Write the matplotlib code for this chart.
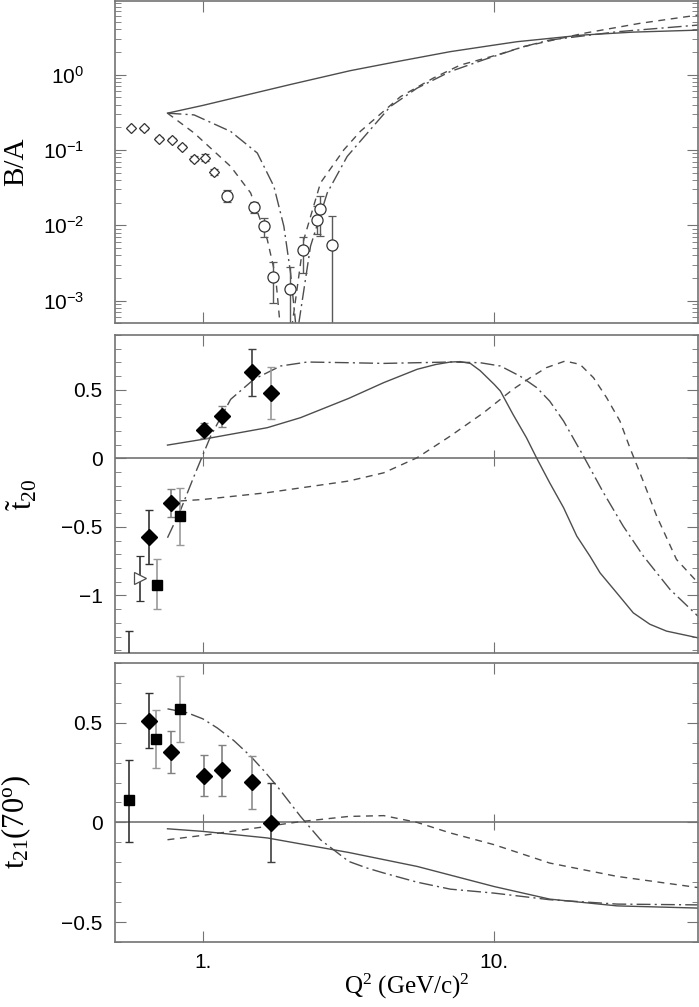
import numpy as np
import matplotlib
matplotlib.use('Agg')
import matplotlib.pyplot as plt
from matplotlib.ticker import FixedLocator, FuncFormatter, LogLocator, MultipleLocator, NullFormatter, NullLocator

plt.rcParams['font.family'] = ['Liberation Sans', 'DejaVu Sans']
plt.rcParams['mathtext.fontset'] = 'custom'
plt.rcParams['mathtext.rm'] = 'Liberation Serif'
plt.rcParams['mathtext.it'] = 'Liberation Serif:italic'
plt.rcParams['mathtext.sf'] = 'Liberation Sans'

# ---- B/A panel ----
ba_diam_x = [0.568, 0.631, 0.708, 0.783, 0.852, 0.934, 1.018, 1.093]
ba_diam_y = [0.197, 0.193, 0.141, 0.136, 0.111, 0.077, 0.079, 0.051]
ba_diam_lo = [0.190, 0.186, 0.135, 0.130, 0.105, 0.071, 0.071, 0.046]
ba_diam_hi = [0.204, 0.200, 0.147, 0.142, 0.117, 0.084, 0.088, 0.056]

ba_circ_x = [1.211, 1.495, 1.618, 1.746, 1.99, 2.216, 2.471, 2.53, 2.78]
ba_circ_y = [0.0247, 0.0173, 0.0097, 0.00207, 0.00144, 0.00467, 0.0116, 0.0165, 0.0054]
ba_circ_lo = [0.0202, 0.0146, 0.0070, 0.00092, 1e-5, 0.0023, 0.0076, 0.0073, 1e-5]
ba_circ_hi = [0.0294, 0.0202, 0.0126, 0.00324, 0.0028, 0.0070, 0.018, 0.0247, 0.0134]

ba_solid_x = [0.757, 1.0, 2.0, 3.21, 4.77, 7.07, 10.0, 12.0, 20.2, 30.0, 50.0]
ba_solid_y = [0.308, 0.39, 0.74, 1.13, 1.52, 2.02, 2.47, 2.74, 3.36, 3.67, 3.9]

ba_dash_x = [0.757, 0.934, 1.247, 1.46, 1.665, 1.778, 1.84, 1.85, 2.02, 2.03, 2.222,
             2.535, 3.05, 3.47, 4.77, 6.18, 7.65, 10.2, 12.6, 20.2, 31.6, 50.0]
ba_dash_y = [0.308, 0.168, 0.0604, 0.0269, 0.00647, 0.00211, 5e-4, 1e-5, 1e-5, 5e-4, 0.00647,
             0.0365, 0.1006, 0.176, 0.51, 0.90, 1.34, 1.82, 2.35, 3.53, 4.8, 6.18]

ba_ddot_x = [0.757, 0.934, 1.247, 1.539, 1.754, 1.898, 2.001, 2.083, 2.09, 2.13, 2.136,
             2.343, 2.674, 3.13, 4.40, 5.43, 7.07, 9.18, 12.6, 15.5, 26.4, 50.0]
ba_ddot_y = [0.308, 0.292, 0.176, 0.091, 0.0329, 0.0097, 0.00234, 5e-4, 1e-5, 1e-5, 5e-4,
             0.00527, 0.0269, 0.082, 0.377, 0.66, 1.10, 1.57, 2.35, 2.88, 3.71, 4.55]

# ---- t20 panel ----
t20_diam_x = [0.653, 0.777, 1.01, 1.164, 1.48, 1.72]
t20_diam_y = [-0.574, -0.326, 0.209, 0.312, 0.633, 0.477]
t20_diam_lo = [-0.769, -0.426, 0.151, 0.231, 0.458, 0.287]
t20_diam_hi = [-0.38, -0.226, 0.26, 0.382, 0.80, 0.667]
t20_diam_ec = ['0.2', '0.5', '0.5', '0.5', '0.25', '0.6']

t20_sq_x = [0.557, 0.696, 0.834]
t20_sq_y = [-1.6, -0.922, -0.421]
t20_sq_lo = [-1.94, -1.102, -0.633]
t20_sq_hi = [-1.26, -0.737, -0.217]
t20_sq_ec = ['0.2', '0.6', '0.6']

t20_tri_x = [0.610]
t20_tri_y = [-0.873]
t20_tri_lo = [-1.04]
t20_tri_hi = [-0.713]

t20_solid_x = [0.757, 1.0, 1.665, 2.165, 3.17, 4.18, 5.44, 6.3, 7.07, 7.65, 8.28, 8.95, 10.0,
               10.5, 11.6, 12.9, 14.0, 15.5, 17.3, 19.2, 21.3, 23.07, 26.3, 30.0, 34.2, 39.0, 50.0]
t20_solid_y = [0.097, 0.139, 0.224, 0.297, 0.438, 0.553, 0.65, 0.685, 0.703, 0.706, 0.693, 0.64, 0.54,
               0.491, 0.321, 0.151, 0.0, -0.178, -0.36, -0.567, -0.713, -0.835, -0.98, -1.127, -1.21,
               -1.26, -1.309]

t20_dash_x = [0.757, 1.0, 1.665, 3.17, 4.18, 5.44, 7.07, 9.19, 11.6, 13.3, 15.1, 17.5,
              19.7, 21.9, 24.3, 27.0, 29.2, 32.5, 36.1, 42.2, 50.0]
t20_dash_y = [-0.316, -0.30, -0.25, -0.165, -0.105, 0.005, 0.163, 0.333, 0.504, 0.589, 0.662, 0.71,
              0.686, 0.589, 0.443, 0.272, 0.078, -0.17, -0.421, -0.737, -0.907]

t20_ddot_x = [0.757, 0.841, 0.934, 1.065, 1.247, 1.498, 1.85, 2.284, 3.17, 4.18, 7.07,
              8.95, 10.5, 12.27, 14.0, 15.5, 17.3, 19.2, 20.2, 23.7, 27.7, 32.5, 40.1, 50.0]
t20_ddot_y = [-0.579, -0.372, -0.129, 0.163, 0.431, 0.577, 0.674, 0.703, 0.698, 0.693, 0.703,
              0.698, 0.674, 0.60, 0.516, 0.418, 0.272, 0.102, 0.02, -0.25, -0.494, -0.713, -0.956,
              -1.151]

# ---- t21 panel ----
t21_diam_x = [0.652, 0.777, 1.01, 1.164, 1.475, 1.719]
t21_diam_y = [0.508, 0.352, 0.233, 0.261, 0.201, -0.003]
t21_diam_lo = [0.374, 0.248, 0.134, 0.134, 0.067, -0.197]
t21_diam_hi = [0.65, 0.461, 0.337, 0.389, 0.332, 0.198]
t21_diam_ec = ['0.2', '0.5', '0.5', '0.5', '0.55', '0.25']

t21_sq_x = [0.557, 0.694, 0.834]
t21_sq_y = [0.11, 0.421, 0.571]
t21_sq_lo = [-0.097, 0.273, 0.404]
t21_sq_hi = [0.315, 0.563, 0.737]
t21_sq_ec = ['0.2', '0.6', '0.6']

t21_solid_x = [0.757, 1.0, 1.665, 3.17, 5.44, 10.0, 15.5, 26.4, 50.0]
t21_solid_y = [-0.032, -0.045, -0.078, -0.151, -0.221, -0.322, -0.385, -0.419, -0.43]

t21_dash_x = [0.757, 1.0, 1.665, 2.165, 3.17, 4.18, 5.44, 7.07, 10.0, 15.5, 26.4, 50.0]
t21_dash_y = [-0.087, -0.065, -0.02, 0.004, 0.03, 0.034, 0.0, -0.053, -0.112, -0.204, -0.271, -0.327]

t21_ddot_x = [0.757, 0.886, 1.0, 1.122, 1.28, 1.46, 1.62, 1.801, 2.165, 2.535, 3.17, 3.66, 4.18,
              5.44, 7.07, 10.0, 15.5, 26.4, 50.0]
t21_ddot_y = [0.57, 0.55, 0.52, 0.474, 0.41, 0.332, 0.26, 0.181, 0.03, -0.087, -0.196, -0.229,
              -0.254, -0.30, -0.335, -0.355, -0.388, -0.41, -0.414]

line_c = '0.3'
spine_c = '0.45'
dash_ls = (0, (5, 4))
ddot_ls = (0, (10, 3, 1.5, 3))


def errs(y, lo, hi):
    y = np.array(y)
    return [y - np.array(lo), np.array(hi) - y]


def draw_points(ax, x, y, lo, hi, ecs, **kw):
    for i in range(len(x)):
        ax.errorbar([x[i]], [y[i]], yerr=[[y[i] - lo[i]], [hi[i] - y[i]]],
                    ecolor=ecs[i], elinewidth=1.2, capsize=3, capthick=1,
                    linestyle='none', zorder=3, **kw)


def style(ax, zero=False):
    ax.set_xscale('log')
    ax.set_xlim(0.5, 50)
    for s in ax.spines.values():
        s.set_color(spine_c)
        s.set_linewidth(1.2)
    ax.xaxis.set_major_locator(FixedLocator([1, 10]))
    ax.xaxis.set_minor_locator(NullLocator())
    ax.tick_params(which='both', direction='in', top=True, right=True, color=spine_c,
                   labelsize=15)
    ax.tick_params(which='major', length=8)
    ax.tick_params(which='minor', length=4)
    ax.xaxis.set_major_formatter(NullFormatter())
    if zero:
        ax.axhline(0, color='0.45', lw=1.2, zorder=1)
        lo, hi = ax.get_ylim()
        sec = ax.secondary_xaxis((0 - lo) / (hi - lo))
        sec.set_xticks([1, 10])
        sec.xaxis.set_minor_locator(NullLocator())
        sec.tick_params(direction='inout', length=12, color=spine_c,
                        labelbottom=False, labeltop=False)
        for s in sec.spines.values():
            s.set_visible(False)


fig = plt.figure(figsize=(6.99, 10.07), dpi=100)
L, W = 0.1645, 0.834
ax1 = fig.add_axes([L, 0.679, W, 0.320])
ax2 = fig.add_axes([L, 0.3515, W, 0.3158])
ax3 = fig.add_axes([L, 0.0646, W, 0.277])

# top
ax1.set_yscale('log')
ax1.set_ylim(5e-4, 9.5)
ax1.plot(ba_solid_x, ba_solid_y, color=line_c, lw=1)
ax1.plot(ba_dash_x, ba_dash_y, color=line_c, lw=1, ls=dash_ls)
ax1.plot(ba_ddot_x, ba_ddot_y, color=line_c, lw=1, ls=ddot_ls)
ax1.errorbar(ba_diam_x, ba_diam_y, yerr=errs(ba_diam_y, ba_diam_lo, ba_diam_hi),
             fmt='D', ms=5.5, mfc='white', mec='0.2', mew=0.9, ecolor='0.3',
             elinewidth=1, capsize=3)
ax1.errorbar(ba_circ_x, ba_circ_y, yerr=errs(ba_circ_y, ba_circ_lo, ba_circ_hi),
             fmt='o', ms=8, mfc='white', mec='0.2', mew=0.9, ecolor='0.35',
             elinewidth=1, capsize=3)
style(ax1)
ax1.yaxis.set_major_locator(LogLocator(base=10, numticks=10))
ax1.yaxis.set_minor_locator(LogLocator(base=10, subs=np.arange(2, 10), numticks=10))
ax1.yaxis.set_minor_formatter(NullFormatter())
ax1.yaxis.set_major_formatter(FuncFormatter(lambda v, p: r'$\mathsf{10^{%d}}$' % round(np.log10(v))))
ax1.tick_params(axis='y', which='major', labelsize=15, pad=22)
ax1.set_ylabel('B/A', family='Liberation Serif', fontsize=21)
ax1.yaxis.set_label_coords(-0.148, 0.5)

# middle
ax2.set_ylim(-1.42, 0.9)
ax2.plot(t20_solid_x, t20_solid_y, color=line_c, lw=1)
ax2.plot(t20_dash_x, t20_dash_y, color=line_c, lw=1, ls=dash_ls)
ax2.plot(t20_ddot_x, t20_ddot_y, color=line_c, lw=1, ls=ddot_ls)
draw_points(ax2, t20_diam_x, t20_diam_y, t20_diam_lo, t20_diam_hi, t20_diam_ec,
            marker='D', ms=8, color='black')
draw_points(ax2, t20_sq_x, t20_sq_y, t20_sq_lo, t20_sq_hi, t20_sq_ec,
            marker='s', ms=7, color='black')
draw_points(ax2, t20_tri_x, t20_tri_y, t20_tri_lo, t20_tri_hi, ['0.2'],
            marker='>', ms=9, mfc='white', mec='0.3', mew=0.9)
style(ax2, zero=True)
ax2.yaxis.set_major_locator(FixedLocator([-1, -0.5, 0, 0.5]))
ax2.yaxis.set_minor_locator(MultipleLocator(0.1))
ax2.yaxis.set_major_formatter(FuncFormatter(lambda v, p: ('%g' % v).replace('-', '\u2212')))
ax2.tick_params(axis='y', which='major', pad=9)
ax2.set_ylabel(r'$\tilde{\mathrm{t}}_{20}$', fontsize=22)
ax2.yaxis.set_label_coords(-0.13, 0.5)

# bottom
ax3.set_ylim(-0.6, 0.8)
ax3.plot(t21_solid_x, t21_solid_y, color=line_c, lw=1)
ax3.plot(t21_dash_x, t21_dash_y, color=line_c, lw=1, ls=dash_ls)
ax3.plot(t21_ddot_x, t21_ddot_y, color=line_c, lw=1, ls=ddot_ls)
draw_points(ax3, t21_diam_x, t21_diam_y, t21_diam_lo, t21_diam_hi, t21_diam_ec,
            marker='D', ms=8, color='black')
draw_points(ax3, t21_sq_x, t21_sq_y, t21_sq_lo, t21_sq_hi, t21_sq_ec,
            marker='s', ms=7, color='black')
style(ax3, zero=True)
ax3.yaxis.set_major_locator(FixedLocator([-0.5, 0, 0.5]))
ax3.yaxis.set_minor_locator(MultipleLocator(0.1))
ax3.yaxis.set_major_formatter(FuncFormatter(lambda v, p: ('%g' % v).replace('-', '\u2212')))
ax3.tick_params(axis='y', which='major', pad=9)
ax3.xaxis.set_major_formatter(FuncFormatter(lambda v, p: '%d.' % round(v)))
ax3.tick_params(axis='x', which='major', pad=8)
ax3.set_ylabel(r'$\mathrm{t}_{21}(70^{\mathrm{o}})$', fontsize=22)
ax3.yaxis.set_label_coords(-0.14, 0.43)
ax3.set_xlabel(r'Q$^2$ (GeV/c)$^2$', family='Liberation Serif', fontsize=18, labelpad=0)

fig.savefig('out.png', dpi=100)
